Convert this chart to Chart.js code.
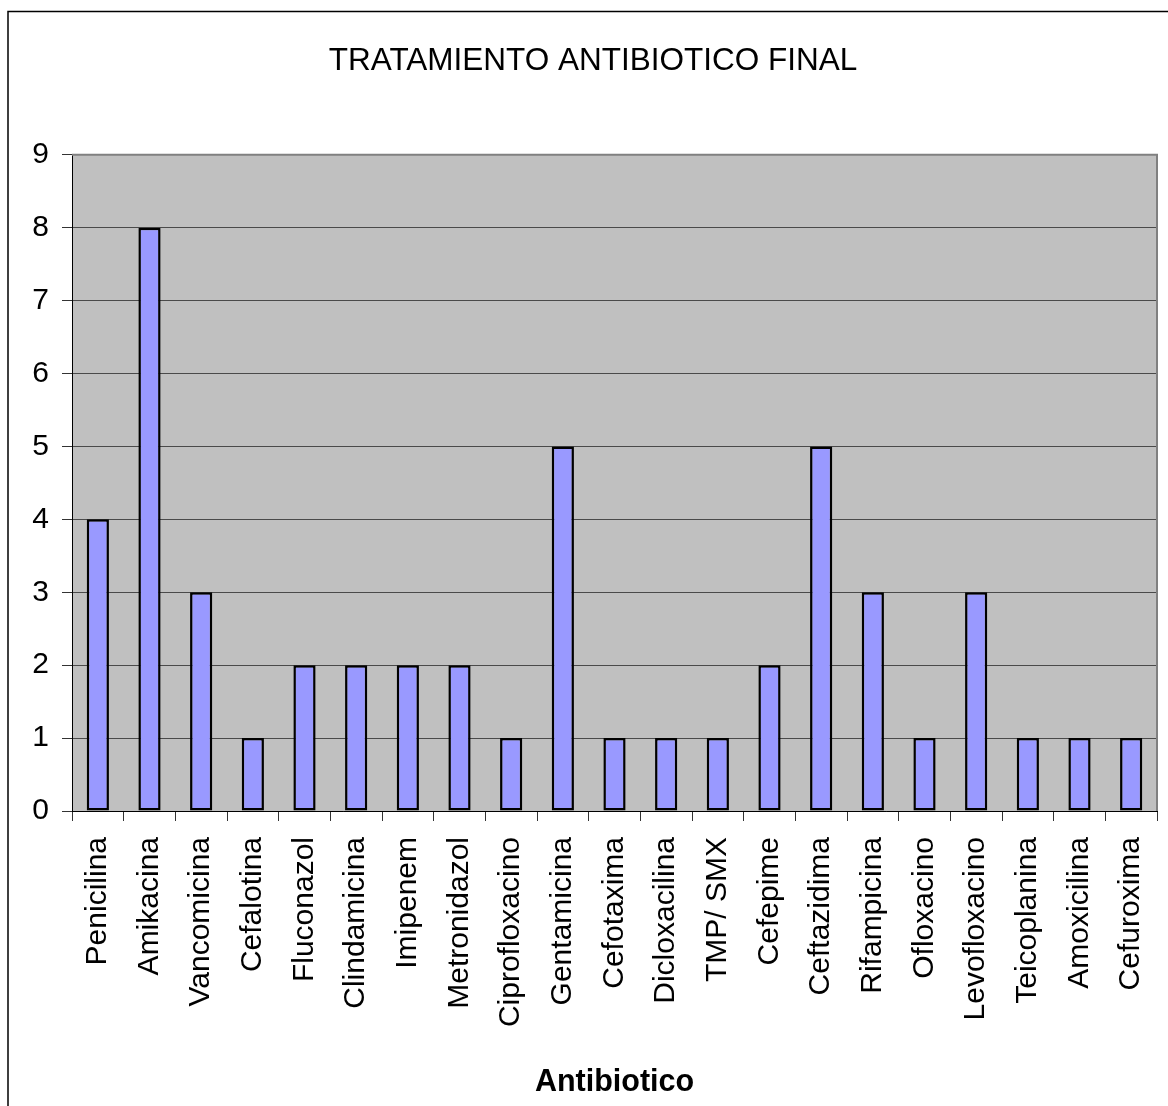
<!DOCTYPE html>
<html>
<head>
<meta charset="utf-8">
<script src="https://cdn.jsdelivr.net/npm/chart.js@4/dist/chart.umd.min.js"></script>
<style>
  html, body { margin: 0; padding: 0; background: #fff; }
  #wrap { width: 1168px; height: 1106px; }
</style>
</head>
<body>
<div id="wrap"><canvas id="chart" width="1168" height="1106"></canvas></div>
<script>
// Antibiotics used as final treatment and number of cases for each
const categories = [
  'Penicilina', 'Amikacina', 'Vancomicina', 'Cefalotina', 'Fluconazol',
  'Clindamicina', 'Imipenem', 'Metronidazol', 'Ciprofloxacino', 'Gentamicina',
  'Cefotaxima', 'Dicloxacilina', 'TMP/ SMX', 'Cefepime', 'Ceftazidima',
  'Rifampicina', 'Ofloxacino', 'Levofloxacino', 'Teicoplanina', 'Amoxicilina',
  'Cefuroxima'
];
const cases = [4, 8, 3, 1, 2, 2, 2, 2, 1, 5, 1, 1, 1, 2, 5, 3, 1, 3, 1, 1, 1];
const yTicks = [0, 1, 2, 3, 4, 5, 6, 7, 8, 9];

const chartTitle = 'TRATAMIENTO ANTIBIOTICO FINAL';
const xTitle = 'Antibiotico';

const FONT = "'Liberation Sans', Arial, sans-serif";

// Page background, grey plot area and the outer frame lines
const framePlugin = {
  id: 'frame',
  beforeDraw(chart) {
    const { ctx, chartArea: a } = chart;
    ctx.save();
    ctx.fillStyle = '#ffffff';
    ctx.fillRect(0, 0, chart.width, chart.height);
    ctx.fillStyle = '#c0c0c0';
    ctx.fillRect(a.left, a.top, a.right - a.left, a.bottom - a.top);
    ctx.restore();
  },
  beforeDatasetsDraw(chart) {
    const { ctx, chartArea: a } = chart;
    ctx.save();
    ctx.strokeStyle = '#808080';
    ctx.lineWidth = 2;
    ctx.beginPath();
    ctx.moveTo(a.left, a.top);
    ctx.lineTo(a.right, a.top);
    ctx.lineTo(a.right, a.bottom);
    ctx.stroke();
    ctx.restore();
  },
  afterDraw(chart) {
    const { ctx } = chart;
    ctx.save();
    ctx.strokeStyle = '#000000';
    ctx.lineWidth = 1.5;
    ctx.beginPath();
    ctx.moveTo(8, chart.height);
    ctx.lineTo(8, 11.5);
    ctx.lineTo(chart.width, 11.5);
    ctx.stroke();
    ctx.restore();
  }
};

new Chart(document.getElementById('chart'), {
  type: 'bar',
  data: {
    labels: categories,
    datasets: [{
      data: cases,
      backgroundColor: '#9999ff',
      borderColor: '#000000',
      borderWidth: 2.5,
      borderSkipped: false,
      categoryPercentage: 1,
      barPercentage: 0.43
    }]
  },
  options: {
    responsive: false,
    animation: false,
    devicePixelRatio: 1,
    layout: { padding: { left: 29, right: 11, top: 0, bottom: 0 } },
    plugins: {
      legend: { display: false },
      tooltip: { enabled: false },
      title: {
        display: true,
        text: chartTitle,
        color: '#000',
        font: { family: FONT, size: 31.5, weight: 'normal', lineHeight: 1.2 },
        padding: { top: 42, bottom: 75 }
      }
    },
    scales: {
      x: {
        offset: true,
        grid: {
          offset: true,
          drawOnChartArea: false,
          drawTicks: true,
          tickLength: 10,
          tickColor: '#333',
          lineWidth: 1
        },
        border: { color: '#000', width: 1 },
        ticks: {
          autoSkip: false,
          minRotation: 90,
          maxRotation: 90,
          padding: 16,
          color: '#000',
          font: { family: FONT, size: 30 }
        },
        title: {
          display: true,
          text: xTitle,
          color: '#000',
          font: { family: FONT, size: 30.5, weight: 'bold', lineHeight: 1.2 },
          padding: { top: 0, bottom: 5 }
        },
        afterFit(scale) {
          scale.height = 295;
          scale.paddingLeft = 0;
          scale.paddingRight = 0;
        }
      },
      y: {
        min: 0,
        max: 9,
        afterBuildTicks(scale) {
          scale.ticks = yTicks.map(v => ({ value: v }));
        },
        grid: {
          color: '#4a4a4a',
          lineWidth: 1,
          tickLength: 10,
          tickColor: '#333'
        },
        border: { color: '#000', width: 1 },
        ticks: {
          padding: 13,
          color: '#000',
          font: { family: FONT, size: 30 }
        },
        afterFit(scale) {
          scale.width = 43;
          scale.paddingTop = 0;
          scale.paddingBottom = 0;
        }
      }
    }
  },
  plugins: [framePlugin]
});
</script>
</body>
</html>
